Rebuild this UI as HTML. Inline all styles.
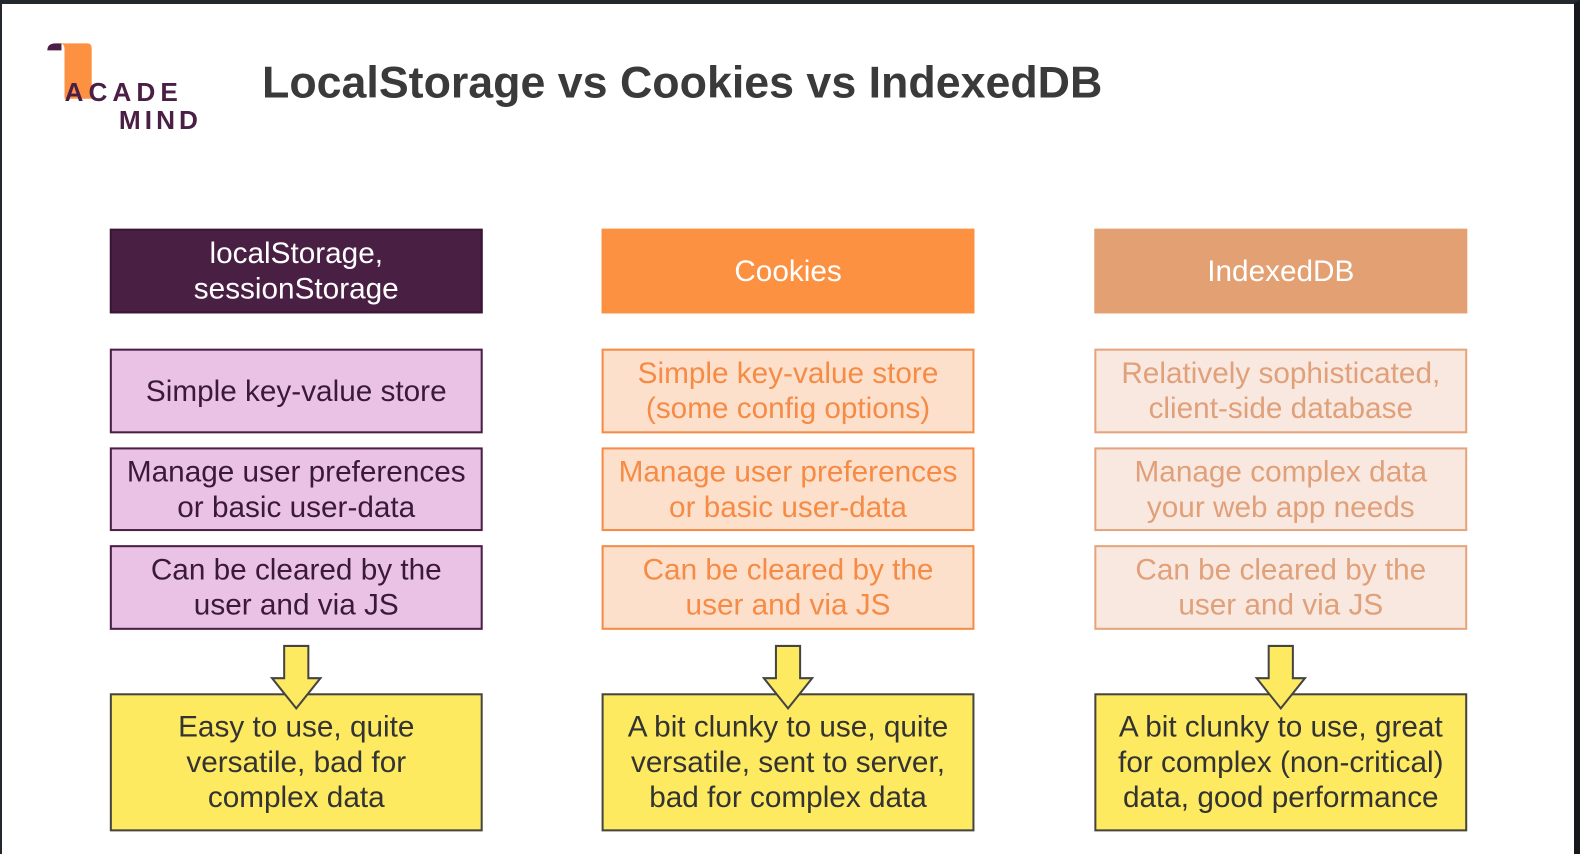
<!DOCTYPE html>
<html><head><meta charset="utf-8"><style>
*{margin:0;padding:0;box-sizing:border-box}
body{width:1580px;height:854px;position:relative;background:#fff;font-family:"Liberation Sans",sans-serif;overflow:hidden}
.frame{position:absolute;left:0;top:0;width:1580px;height:854px;border-top:4px solid #23272e;border-left:2px solid #23272e;border-right:6px solid #16181c;z-index:5}
.w{position:absolute;left:0;top:0;width:1568px;height:848px;transform:scale(1.0077);transform-origin:0 0}
.b{position:absolute;width:370px;display:flex;align-items:center;justify-content:center;text-align:center;font-size:29.5px;line-height:35px;border:2px solid}
.c1{left:109px}.c2{left:597px}.c3{left:1086px}
.h{top:227px;height:84px;color:#fff}
.r1{top:346px;height:84px}.r2{top:444px;height:83px}.r3{top:541px;height:84px}
.y{top:688px;height:137px;background:#fdea60;border-color:#444;color:#333}
.p1{background:#e9c2e6;border-color:#4a1e45;color:#3a1a38}
.p2{background:#fde0cc;border-color:#f68b45;color:#f68b45}
.p3{background:#f9e8df;border-color:#e5a57c;color:#e0a07a}
svg.ar{position:absolute;top:638px;width:52px;height:68px}
</style></head><body>
<div class="frame"></div>
<div class="w">
<svg style="position:absolute;left:45px;top:40px" width="50" height="60"><path d="M2 10 Q2 3 10 3 L16 3 L16 10Z" fill="#4a1e45"/><path d="M14 3 L42 3 Q46 3 46 8 L46 58 L19 58 L19 9 Q19 3 14 3Z" fill="#fd9142"/></svg>
<div style="position:absolute;left:64px;top:76px;font-size:26px;font-weight:bold;color:#4a1e45;letter-spacing:5px">ACADE</div>
<div style="position:absolute;left:118px;top:104px;font-size:26px;font-weight:bold;color:#4a1e45;letter-spacing:4px">MIND</div>
<div style="position:absolute;left:260px;top:58px;font-size:44.4px;font-weight:bold;color:#3a3a3a">LocalStorage vs Cookies vs IndexedDB</div>

<div class="b c1 h" style="background:#4a1f44;border-color:#3a1535">localStorage,<br>sessionStorage</div>
<div class="b c2 h" style="background:#fd9142;border-color:#fd9142">Cookies</div>
<div class="b c3 h" style="background:#e3a173;border-color:#e3a173">IndexedDB</div>

<div class="b c1 r1 p1">Simple key-value store</div>
<div class="b c1 r2 p1">Manage user preferences<br>or basic user-data</div>
<div class="b c1 r3 p1">Can be cleared by the<br>user and via JS</div>

<div class="b c2 r1 p2">Simple key-value store<br>(some config options)</div>
<div class="b c2 r2 p2">Manage user preferences<br>or basic user-data</div>
<div class="b c2 r3 p2">Can be cleared by the<br>user and via JS</div>

<div class="b c3 r1 p3">Relatively sophisticated,<br>client-side database</div>
<div class="b c3 r2 p3">Manage complex data<br>your web app needs</div>
<div class="b c3 r3 p3">Can be cleared by the<br>user and via JS</div>

<div class="b c1 y">Easy to use, quite<br>versatile, bad for<br>complex data</div>
<div class="b c2 y">A bit clunky to use, quite<br>versatile, sent to server,<br>bad for complex data</div>
<div class="b c3 y">A bit clunky to use, great<br>for complex (non-critical)<br>data, good performance</div>

<svg class="ar" style="left:268px" viewBox="0 0 52 68"><path d="M14 3 L38 3 L38 35 L50 35 L26 65 L2 35 L14 35Z" fill="#fdea60" stroke="#444" stroke-width="2"/></svg>
<svg class="ar" style="left:756px" viewBox="0 0 52 68"><path d="M14 3 L38 3 L38 35 L50 35 L26 65 L2 35 L14 35Z" fill="#fdea60" stroke="#444" stroke-width="2"/></svg>
<svg class="ar" style="left:1245px" viewBox="0 0 52 68"><path d="M14 3 L38 3 L38 35 L50 35 L26 65 L2 35 L14 35Z" fill="#fdea60" stroke="#444" stroke-width="2"/></svg>
</div>
</body></html>
